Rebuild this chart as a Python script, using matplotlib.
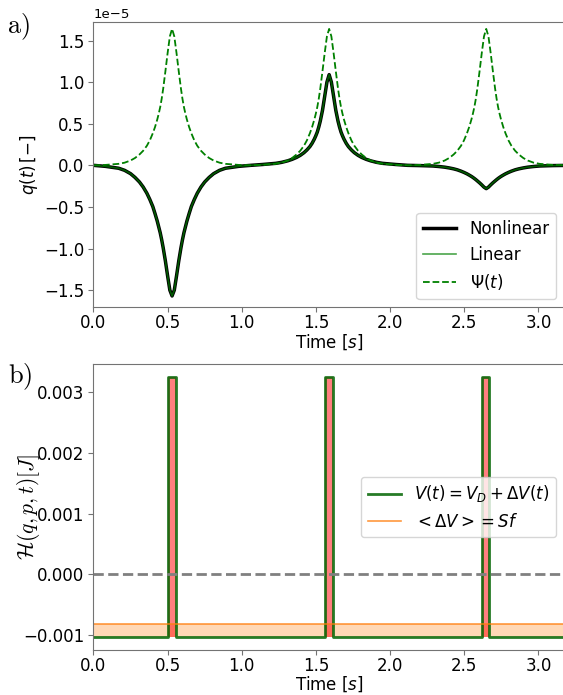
import numpy as np
import matplotlib
matplotlib.use("Agg")
import matplotlib.pyplot as plt

# time samples (s), denser around the three resonance peaks
t = [0.0,
     0.08, 0.17, 0.21, 0.25, 0.28, 0.31, 0.335, 0.36, 0.38, 0.40, 0.415, 0.43, 0.44, 0.45, 0.46, 0.47, 0.485, 0.50, 0.515, 0.53,
     0.545, 0.56, 0.575, 0.59, 0.60, 0.61, 0.62, 0.63, 0.645, 0.66, 0.68, 0.70, 0.725, 0.75, 0.78, 0.81, 0.85, 0.89, 0.98,
     1.06,
     1.139, 1.229, 1.269, 1.309, 1.339, 1.369, 1.394, 1.419, 1.439, 1.459, 1.474, 1.489, 1.499, 1.509, 1.519, 1.529, 1.544, 1.559, 1.574, 1.589,
     1.604, 1.619, 1.634, 1.649, 1.659, 1.669, 1.679, 1.689, 1.704, 1.719, 1.739, 1.759, 1.784, 1.809, 1.839, 1.869, 1.909, 1.949, 2.039,
     2.118,
     2.198, 2.288, 2.328, 2.368, 2.398, 2.428, 2.453, 2.478, 2.498, 2.518, 2.533, 2.548, 2.558, 2.568, 2.578, 2.588, 2.603, 2.618, 2.633, 2.648,
     2.663, 2.678, 2.693, 2.708, 2.718, 2.728, 2.738, 2.748, 2.763, 2.778, 2.798, 2.818, 2.843, 2.868, 2.898, 2.928, 2.968, 3.008, 3.098,
     3.177]

# q(t) in units of 1e-5
q_nonlinear = [0.0,
     -0.012, -0.035, -0.06, -0.10, -0.145, -0.20, -0.26, -0.335, -0.41, -0.495, -0.58, -0.67, -0.74, -0.81, -0.895, -0.99, -1.15, -1.33, -1.50, -1.57,
     -1.50, -1.33, -1.15, -0.99, -0.895, -0.81, -0.74, -0.67, -0.58, -0.495, -0.41, -0.335, -0.26, -0.20, -0.145, -0.10, -0.06, -0.035, -0.012,
     0.0,
     0.01, 0.024, 0.036, 0.054, 0.072, 0.095, 0.12, 0.152, 0.185, 0.225, 0.265, 0.315, 0.355, 0.40, 0.46, 0.53, 0.66, 0.83, 1.00, 1.09,
     1.00, 0.83, 0.66, 0.53, 0.46, 0.40, 0.355, 0.315, 0.265, 0.225, 0.185, 0.152, 0.12, 0.095, 0.072, 0.054, 0.036, 0.024, 0.01,
     0.0,
     -0.003, -0.008, -0.014, -0.022, -0.031, -0.042, -0.054, -0.07, -0.085, -0.102, -0.117, -0.133, -0.145, -0.158, -0.172, -0.187, -0.21, -0.235, -0.262, -0.28,
     -0.262, -0.235, -0.21, -0.187, -0.172, -0.158, -0.145, -0.133, -0.117, -0.102, -0.085, -0.07, -0.054, -0.042, -0.031, -0.022, -0.014, -0.008, -0.003,
     -0.001]
q_linear = list(q_nonlinear)

psi = [0.0,
     0.005, 0.018, 0.032, 0.058, 0.088, 0.13, 0.175, 0.235, 0.30, 0.385, 0.46, 0.55, 0.62, 0.70, 0.80, 0.92, 1.13, 1.35, 1.55, 1.64,
     1.55, 1.35, 1.13, 0.92, 0.80, 0.70, 0.62, 0.55, 0.46, 0.385, 0.30, 0.235, 0.175, 0.13, 0.088, 0.058, 0.032, 0.018, 0.005,
     0.0,
     0.005, 0.018, 0.032, 0.058, 0.088, 0.13, 0.175, 0.235, 0.30, 0.385, 0.46, 0.55, 0.62, 0.70, 0.80, 0.92, 1.13, 1.35, 1.55, 1.64,
     1.55, 1.35, 1.13, 0.92, 0.80, 0.70, 0.62, 0.55, 0.46, 0.385, 0.30, 0.235, 0.175, 0.13, 0.088, 0.058, 0.032, 0.018, 0.005,
     0.0,
     0.005, 0.018, 0.032, 0.058, 0.088, 0.13, 0.175, 0.235, 0.30, 0.385, 0.46, 0.55, 0.62, 0.70, 0.80, 0.92, 1.13, 1.35, 1.55, 1.64,
     1.55, 1.35, 1.13, 0.92, 0.80, 0.70, 0.62, 0.55, 0.46, 0.385, 0.30, 0.235, 0.175, 0.13, 0.088, 0.058, 0.032, 0.018, 0.005,
     0.003]

# piecewise potential V(t) = V_D + dV(t)
t_v = [0.0, 0.502, 0.502, 0.555, 0.555, 1.561, 1.561, 1.614, 1.614,
       2.617, 2.617, 2.670, 2.670, 3.177]
v_d = -1.035e-3
v_on = 3.25e-3
v = [v_d, v_d, v_on, v_on, v_d, v_d, v_on, v_on, v_d, v_d, v_on, v_on, v_d, v_d]
sf = -0.83e-3
t_end = 3.177

plt.rcParams['font.size'] = 12
plt.rcParams['axes.edgecolor'] = '0.45'
plt.rcParams['xtick.major.pad'] = 1.5
plt.rcParams['ytick.major.pad'] = 3

fig = plt.figure(figsize=(5.63, 6.95), dpi=100)
ax1 = fig.add_axes([0.166, 0.558, 0.837, 0.410])
ax2 = fig.add_axes([0.166, 0.065, 0.837, 0.411])

t = np.array(t)
ax1.plot(t, np.array(q_nonlinear) * 1e-5, color='k', lw=2.5, label='Nonlinear')
ax1.plot(t, np.array(q_linear) * 1e-5, color='g', lw=1.2, alpha=0.7, label='Linear')
ax1.plot(t, np.array(psi) * 1e-5, color='green', lw=1.3, ls='--', label=r'$\Psi(t)$')
ax1.set_xlim(0, t_end)
ax1.set_ylim(-1.705e-5, 1.72e-5)
ax1.set_xlabel(r'Time $[s]$', labelpad=0)
ax1.set_ylabel(r'$q(t)\,[-]$')
ax1.yaxis.set_label_coords(-0.113, 0.5)
ax1.yaxis.get_offset_text().set_fontsize(9.5)
ax1.legend(loc='lower right')

ax2.plot(t_v, v, color='darkgreen', lw=2, alpha=0.85, label=r'$V(t) = V_D + \Delta V(t)$')
ax2.axhline(sf, color='C1', lw=1.2, alpha=0.8, label=r'$ <\Delta V> = Sf$')
ax2.fill_between([0, t_end], v_d, sf, color='C1', alpha=0.3, lw=0)
ax2.fill_between(t_v, v, v_d, where=np.array(v) > v_d, color='red', alpha=0.5, lw=0)
ax2.axhline(0, color='gray', lw=2, ls='--')
ax2.set_xlim(0, t_end)
ax2.set_xlabel(r'Time $[s]$', labelpad=0)
ax2.set_ylabel(r'$\mathcal{H}(q,p,t)[J]$', math_fontfamily='cm', fontsize=15.5)
ax2.yaxis.set_label_coords(-0.11, 0.5)
ax2.legend(loc='center right')

for ax in (ax1, ax2):
    ax.tick_params(color='0.45')

fig.text(0.012, 0.952, r'$\mathrm{a)}$', math_fontfamily='cm', fontsize=19)
fig.text(0.015, 0.449, r'$\mathrm{b)}$', math_fontfamily='cm', fontsize=19)

fig.savefig('out.png', dpi=100)
